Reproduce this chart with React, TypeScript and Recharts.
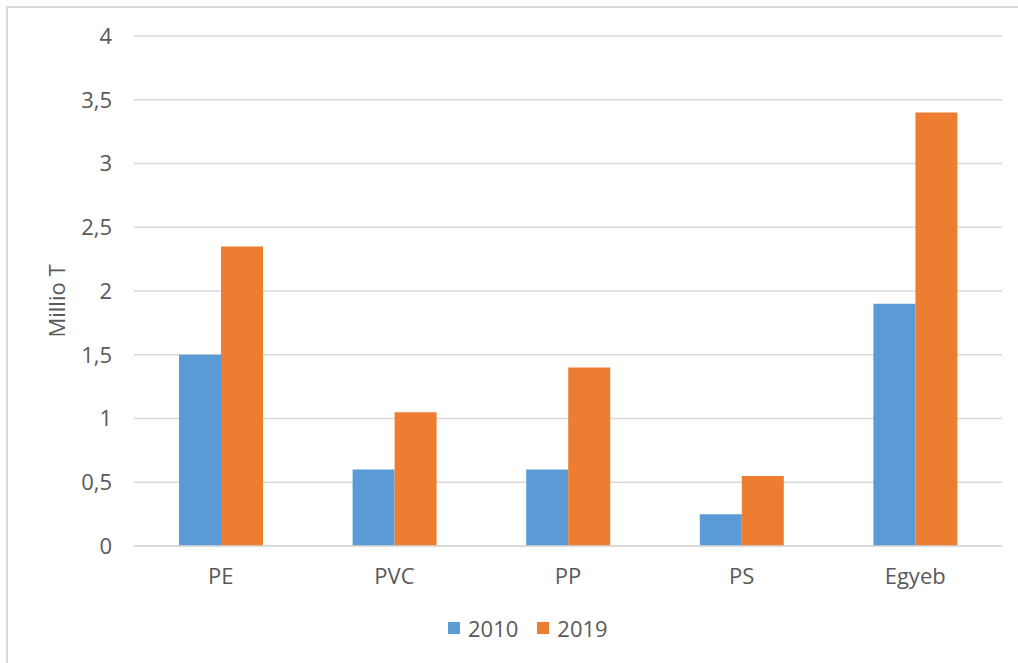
import { BarChart, Bar, XAxis, YAxis, CartesianGrid, Legend, Label } from 'recharts'

const categories = ['PE', 'PVC', 'PP', 'PS', 'Egyeb']
const values2010 = [1.5, 0.6, 0.6, 0.25, 1.9]
const values2019 = [2.35, 1.05, 1.4, 0.55, 3.4]
const yTicks = [0, 0.5, 1, 1.5, 2, 2.5, 3, 3.5, 4]

const data = categories.map((name, i) => ({ name, y2010: values2010[i], y2019: values2019[i] }))

const FONT = '"Open Sans", sans-serif'
const TEXT = '#595959'

function LegendContent(props: any) {
  const items = props.payload || []
  return (
    <div style={{ display: 'flex', alignItems: 'center', fontFamily: FONT, fontSize: 22, color: TEXT }}>
      {items.map((it: any, i: number) => (
        <div key={i} style={{ display: 'flex', alignItems: 'center', marginRight: i < items.length - 1 ? 19 : 0 }}>
          <span style={{ width: 12, height: 12, background: it.color, display: 'inline-block', marginRight: 8 }} />
          <span style={{ lineHeight: '26px' }}>{it.value}</span>
        </div>
      ))}
    </div>
  )
}

export default function App() {
  return (
    <div style={{ position: 'absolute', left: 0, top: 0, width: 1018, height: 663, background: '#fff', overflow: 'hidden' }}>
      <div style={{ position: 'absolute', left: 6, top: 6, width: 1030, height: 680, borderTop: '2px solid #d9d9d9', borderLeft: '2px solid #d9d9d9' }} />
      <div style={{ position: 'absolute', left: 0, top: 0 }}>
        <BarChart
          width={1018}
          height={663}
          data={data}
          margin={{ top: 36, right: 16, left: 0, bottom: 77 }}
          barGap={0}
        >
          <CartesianGrid vertical={false} stroke="#d9d9d9" strokeWidth={1.3} />
          <XAxis
            dataKey="name"
            height={40}
            axisLine={{ stroke: '#d9d9d9', strokeWidth: 1.5 }}
            tickLine={false}
            tickMargin={16}
            tick={{ fill: TEXT, fontSize: 22, fontFamily: FONT }}
            interval={0}
          />
          <YAxis
            width={134}
            domain={[0, 4]}
            ticks={yTicks}
            axisLine={false}
            tickLine={false}
            tickMargin={16}
            tick={{ fill: TEXT, fontSize: 22, fontFamily: FONT }}
            tickFormatter={(v: number) => String(v).replace('.', ',')}
          >
            <Label
              content={() => (
                <text
                  x={56}
                  y={301}
                  transform="rotate(-90 56 301)"
                  textAnchor="middle"
                  dominantBaseline="central"
                  fill={TEXT}
                  fontSize={22}
                  fontFamily={FONT}
                >
                  Millio T
                </text>
              )}
            />
          </YAxis>
          <Legend
            verticalAlign="middle"
            align="center"
            layout="horizontal"
            wrapperStyle={{ top: 615, left: 448, width: 'auto' }}
            content={LegendContent}
          />
          <Bar dataKey="y2010" name="2010" fill="#5B9BD5" barSize={42} isAnimationActive={false} />
          <Bar dataKey="y2019" name="2019" fill="#ED7D31" barSize={42} isAnimationActive={false} />
        </BarChart>
      </div>
    </div>
  )
}
